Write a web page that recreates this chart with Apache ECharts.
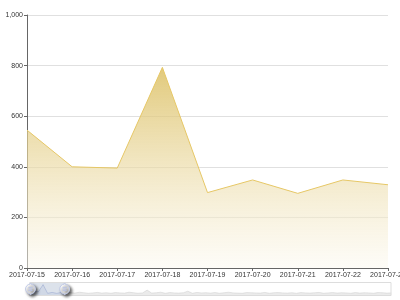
<!DOCTYPE html>
<html>
<head>
<meta charset="utf-8">
<script src="https://cdn.jsdelivr.net/npm/echarts@6/dist/echarts.min.js"></script>
<style>html,body{margin:0;padding:0;background:#fff}#c{width:400px;height:300px}</style>
</head>
<body>
<div id="c"></div>
<script>
const dates = [
'2017-07-15','2017-07-16','2017-07-17','2017-07-18','2017-07-19','2017-07-20','2017-07-21','2017-07-22','2017-07-23',
'2017-07-24','2017-07-25','2017-07-26','2017-07-27','2017-07-28','2017-07-29','2017-07-30','2017-07-31',
'2017-08-01','2017-08-02','2017-08-03','2017-08-04','2017-08-05','2017-08-06','2017-08-07','2017-08-08',
'2017-08-09','2017-08-10','2017-08-11','2017-08-12','2017-08-13','2017-08-14','2017-08-15','2017-08-16',
'2017-08-17','2017-08-18','2017-08-19','2017-08-20','2017-08-21','2017-08-22','2017-08-23','2017-08-24',
'2017-08-25','2017-08-26','2017-08-27','2017-08-28','2017-08-29','2017-08-30','2017-08-31','2017-09-01',
'2017-09-02','2017-09-03','2017-09-04','2017-09-05','2017-09-06','2017-09-07','2017-09-08','2017-09-09',
'2017-09-10','2017-09-11','2017-09-12','2017-09-13','2017-09-14','2017-09-15','2017-09-16','2017-09-17',
'2017-09-18','2017-09-19','2017-09-20','2017-09-21','2017-09-22','2017-09-23','2017-09-24','2017-09-25',
'2017-09-26','2017-09-27','2017-09-28','2017-09-29','2017-09-30','2017-10-01','2017-10-02','2017-10-03'
];
const values = [
545, 400, 395, 793, 298, 348, 295, 348, 329,
340, 310, 360, 330, 300, 320, 350, 310,
330, 300, 340, 320, 310, 360, 330, 300,
320, 480, 310, 330, 360, 300, 340, 320,
310, 330, 420, 300, 350, 320, 330, 310,
340, 300, 330, 360, 320, 310, 300, 340,
330, 320, 310, 350, 300, 330, 340, 320,
310, 330, 300, 340, 320, 310, 330, 350,
300, 320, 340, 310, 330, 320, 300, 340,
310, 330, 320, 300, 340, 330, 310, 320
];
const yTicks = { min: 0, max: 1000, interval: 200 };

const chart = echarts.init(document.getElementById('c'), null, { renderer: 'canvas' });
chart.setOption({
  animation: false,
  grid: { left: 27, right: 12, top: 15, bottom: 32, containLabel: false, outerBoundsMode: 'none' },
  xAxis: {
    type: 'category',
    boundaryGap: false,
    data: dates,
    axisLine: { lineStyle: { color: '#666' } },
    axisTick: { lineStyle: { color: '#666' }, length: 3 },
    axisLabel: { color: '#333', fontSize: 7, interval: 0, margin: 4, fontFamily: 'Liberation Sans' }
  },
  yAxis: {
    type: 'value',
    min: yTicks.min, max: yTicks.max, interval: yTicks.interval,
    axisLine: { show: true, lineStyle: { color: '#666' } },
    axisTick: { show: true, length: 3, lineStyle: { color: '#666' } },
    axisLabel: { color: '#333', fontSize: 7, margin: 4, fontFamily: 'Liberation Sans' },
    splitLine: { lineStyle: { color: '#e0e0e0' } }
  },
  dataZoom: [
    { type: 'inside', startValue: 0, endValue: 8 },
    {
      type: 'slider', startValue: 0, endValue: 8,
      left: 27, right: 11, top: 282, height: 14,
      showDetail: false,
      handleIcon: 'path://M10.7,11.9v-1.3H9.3v1.3c-4.9,0.3-8.8,4.4-8.8,9.4c0,5,3.9,9.1,8.8,9.4v1.3h1.3v-1.3c4.9-0.3,8.8-4.4,8.8-9.4C19.5,16.3,15.6,12.2,10.7,11.9z M13.3,24.4H6.7V23h6.6V24.4z M13.3,19.6H6.7v-1.4h6.6V19.6z',
      handleSize: '80%',
      handleStyle: { color: '#fff', shadowBlur: 3, shadowColor: 'rgba(0,0,0,0.6)', shadowOffsetX: 2, shadowOffsetY: 2 },
      moveHandleSize: 0,
      borderColor: '#ddd',
      fillerColor: 'rgba(167,183,204,0.4)',
      dataBackground: {
        lineStyle: { color: '#ccc', width: 0.5 },
        areaStyle: { color: '#ddd', opacity: 0.6 }
      }
    }
  ],
  series: [{
    type: 'line',
    data: values,
    symbol: 'none',
    sampling: 'average',
    lineStyle: { color: '#e6c766', width: 1 },
    itemStyle: { color: '#e6c766' },
    areaStyle: {
      opacity: 1,
      color: new echarts.graphic.LinearGradient(0, 0, 0, 1, [
        { offset: 0, color: 'rgba(218,188,90,0.8)' },
        { offset: 1, color: 'rgba(252,249,240,0.5)' }
      ])
    }
  }]
});
</script>
</body>
</html>
